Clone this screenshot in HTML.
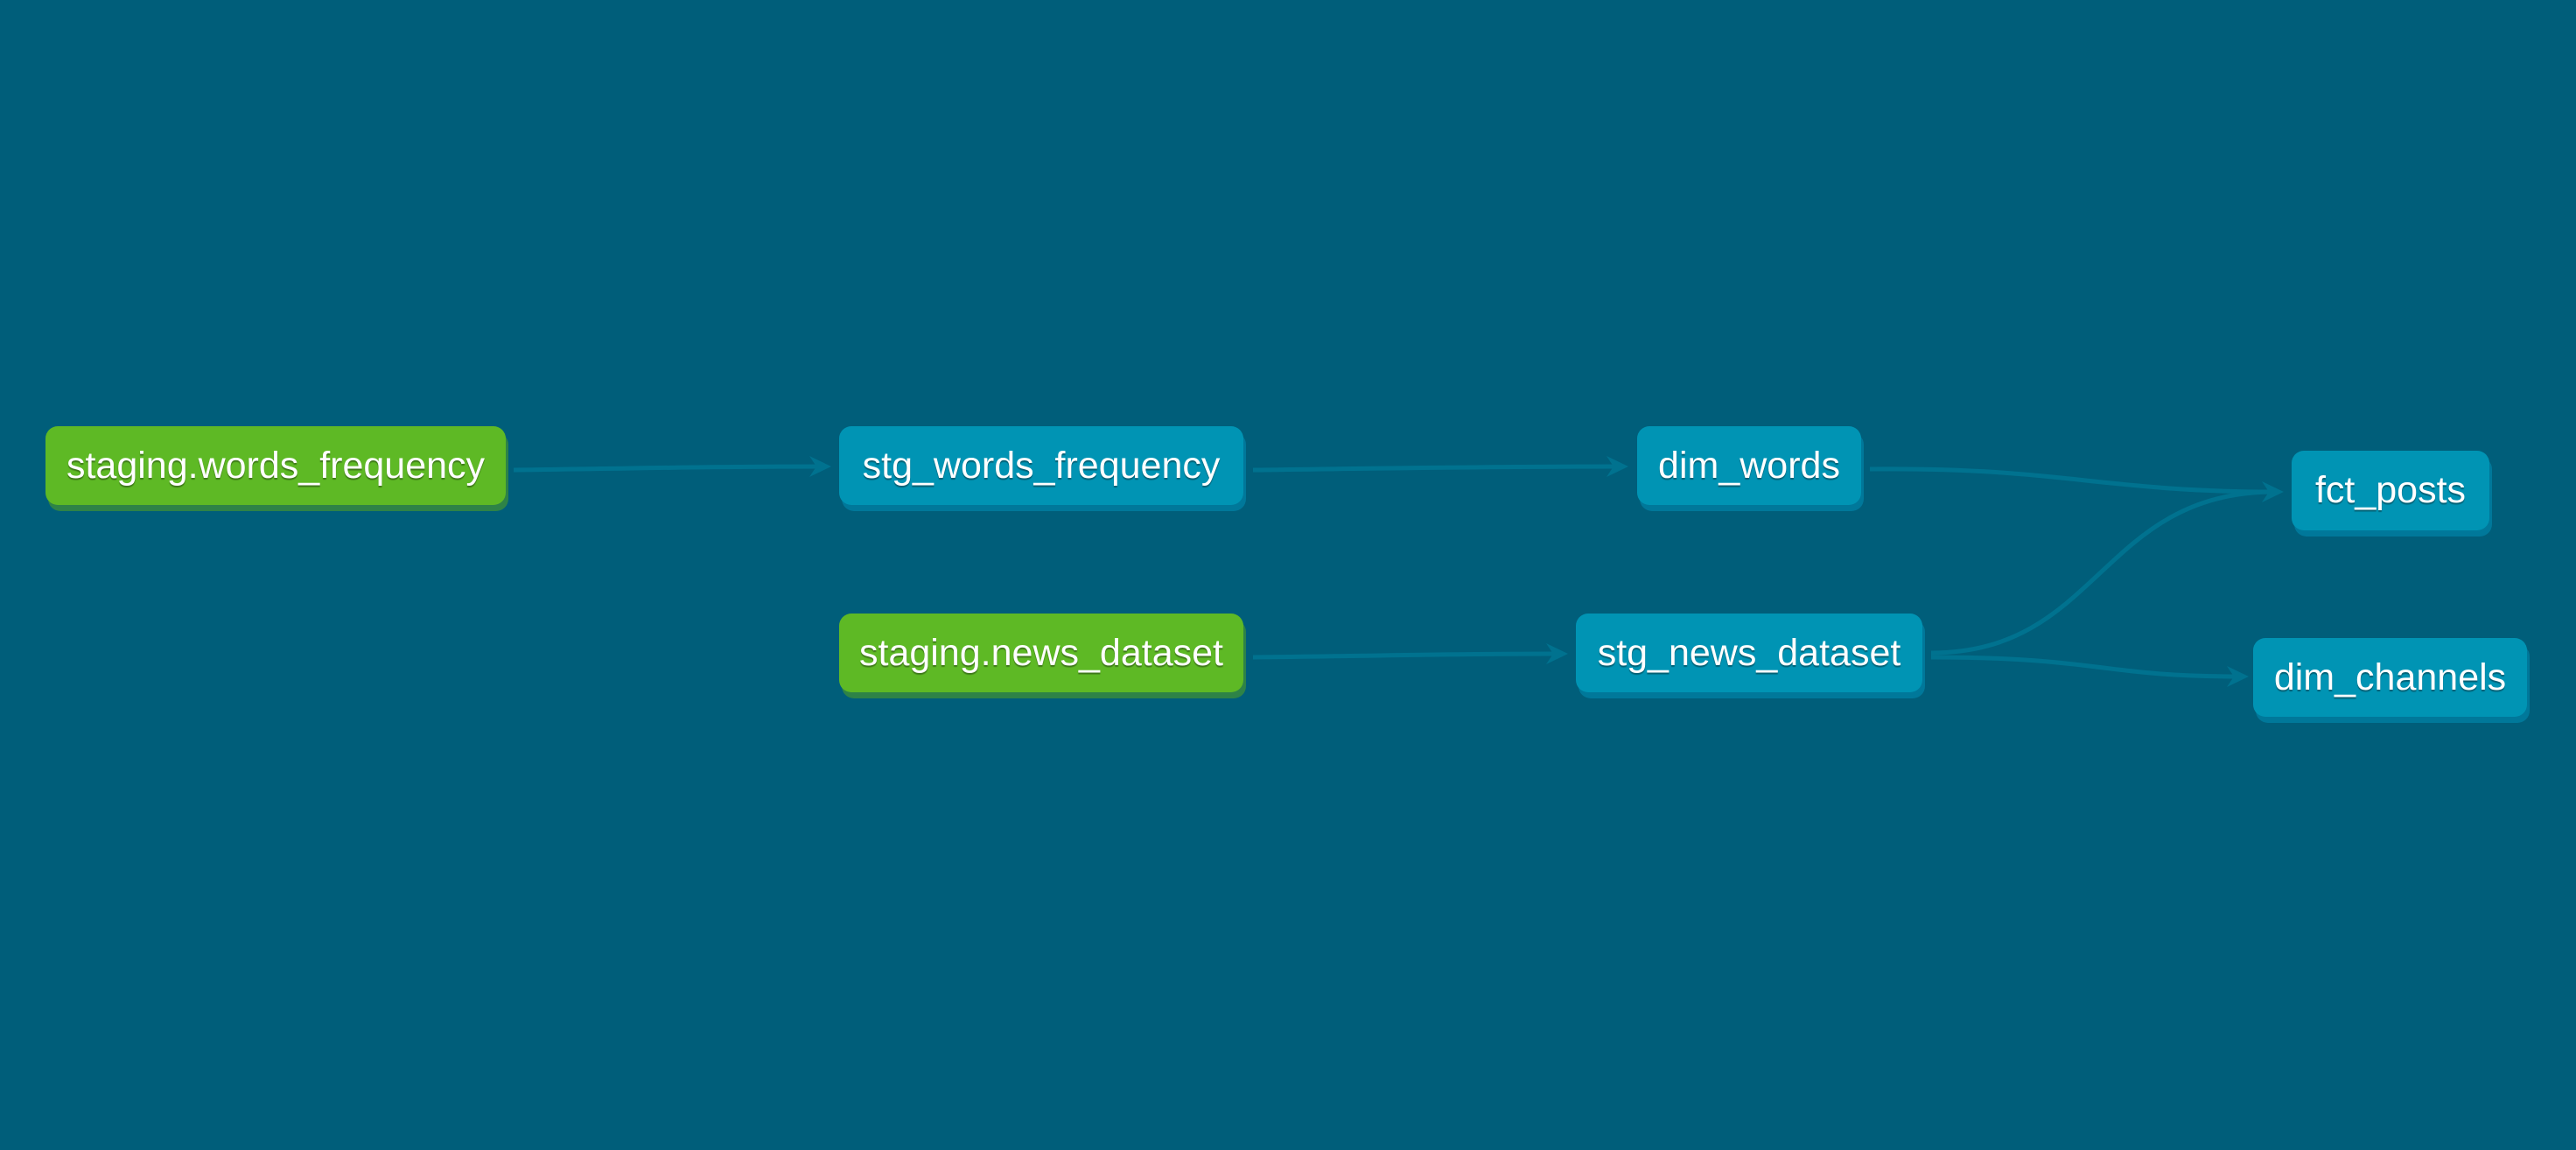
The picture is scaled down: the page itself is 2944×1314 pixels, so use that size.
<!DOCTYPE html>
<html><head><meta charset="utf-8"><style>
html,body{margin:0;padding:0;width:2944px;height:1314px;background:#005e7a;overflow:hidden}
.n{position:absolute;border-radius:14px;color:#fff;font-family:"Liberation Sans",sans-serif;font-size:43px;display:flex;align-items:center;justify-content:center;text-shadow:0 2px 1px rgba(0,0,0,.35);box-sizing:border-box;white-space:nowrap}
.g{background:#5eb925;box-shadow:3px 7px 0 #2e8347}
.t{background:#0094b4;box-shadow:3px 7px 0 #00789a}
svg{position:absolute;left:0;top:0}
</style></head><body>
<svg width="2944" height="1314">
<g fill="none" stroke="#00728f" stroke-width="5">
<path d="M587,537 C750,535 800,533 945,533"/>
<path d="M1432,537 C1600,535 1700,533 1855,533"/>
<path d="M1432,751 C1600,749 1650,747 1785,747"/>
<path d="M2137,536 C2360,534 2400,562 2600,562"/>
<path d="M2207,746 C2400,746 2400,562 2600,562"/>
<path d="M2207,751 C2400,751 2400,773 2560,773"/>
</g>
<g fill="#00728f">
<path d="M925,521 L950,533 L925,545 L933,533 Z"/>
<path d="M1836,521 L1861,533 L1836,545 L1844,533 Z"/>
<path d="M1767,735 L1792,747 L1767,759 L1775,747 Z"/>
<path d="M2585,550 L2610,562 L2585,574 L2593,562 Z"/>
<path d="M2545,761 L2570,773 L2545,785 L2553,773 Z"/>
</g>
</svg>
<div class="n g" style="left:52px;top:487px;width:526px;height:90px">staging.words_frequency</div>
<div class="n t" style="left:959px;top:487px;width:462px;height:90px">stg_words_frequency</div>
<div class="n g" style="left:959px;top:701px;width:462px;height:90px">staging.news_dataset</div>
<div class="n t" style="left:1871px;top:487px;width:256px;height:90px">dim_words</div>
<div class="n t" style="left:1801px;top:701px;width:396px;height:90px">stg_news_dataset</div>
<div class="n t" style="left:2619px;top:515px;width:226px;height:91px">fct_posts</div>
<div class="n t" style="left:2575px;top:729px;width:313px;height:90px">dim_channels</div>
</body></html>
